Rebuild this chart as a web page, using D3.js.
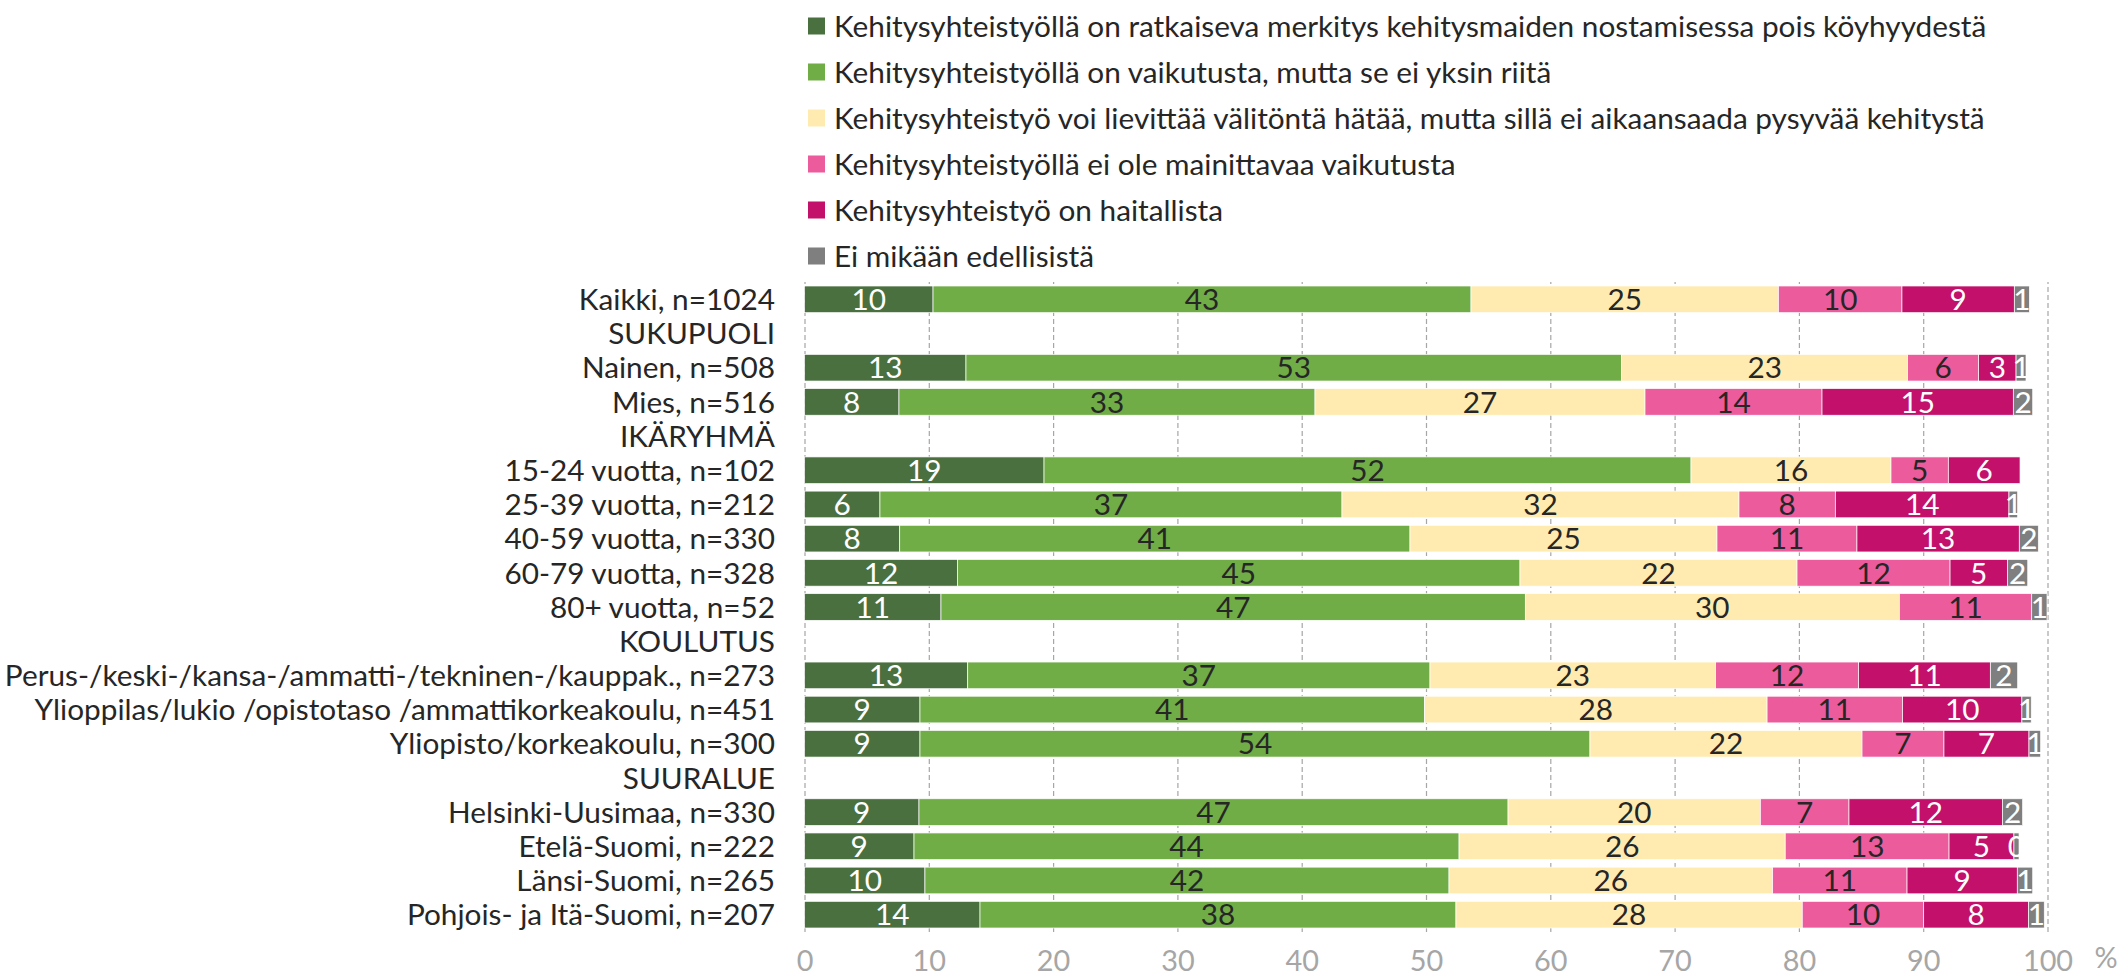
<!DOCTYPE html>
<html><head><meta charset="utf-8">
<script src="https://cdn.jsdelivr.net/npm/d3@7"></script>
<style>body{margin:0;background:#fff} svg{display:block}</style>
</head><body><svg id="c" width="2118" height="976"></svg>
<script>
const categories = [
  "Kaikki, n=1024", "SUKUPUOLI", "Nainen, n=508", "Mies, n=516", "IKÄRYHMÄ",
  "15-24 vuotta, n=102", "25-39 vuotta, n=212", "40-59 vuotta, n=330", "60-79 vuotta, n=328", "80+ vuotta, n=52",
  "KOULUTUS", "Perus-/keski-/kansa-/ammatti-/tekninen-/kauppak., n=273",
  "Ylioppilas/lukio /opistotaso /ammattikorkeakoulu, n=451", "Yliopisto/korkeakoulu, n=300",
  "SUURALUE", "Helsinki-Uusimaa, n=330", "Etelä-Suomi, n=222", "Länsi-Suomi, n=265", "Pohjois- ja Itä-Suomi, n=207"
];
const seriesNames = [
  "Kehitysyhteistyöllä on ratkaiseva merkitys kehitysmaiden nostamisessa pois köyhyydestä",
  "Kehitysyhteistyöllä on vaikutusta, mutta se ei yksin riitä",
  "Kehitysyhteistyö voi lievittää välitöntä hätää, mutta sillä ei aikaansaada pysyvää kehitystä",
  "Kehitysyhteistyöllä ei ole mainittavaa vaikutusta",
  "Kehitysyhteistyö on haitallista",
  "Ei mikään edellisistä"
];
const ratkaiseva = [10.34, null, 12.99, 7.60, null, 19.27, 6.07, 7.66, 12.30, 10.98, null, 13.13, 9.29, 9.29, null, 9.21, 8.81, 9.69, 14.12];
const vaikutusta = [43.28, null, 52.75, 33.47, null, 52.05, 37.17, 41.05, 45.26, 47.01, null, 37.19, 40.60, 53.90, null, 47.39, 43.85, 42.16, 38.29];
const lievittaa  = [24.73, null, 23.01, 26.55, null, 16.09, 31.94, 24.70, 22.29, 30.09, null, 22.98, 27.55, 21.89, null, 20.30, 26.24, 26.04, 27.86];
const eiVaikutusta = [9.94, null, 5.71, 14.24, null, 4.61, 7.75, 11.26, 12.31, 10.65, null, 11.50, 10.90, 6.59, null, 7.13, 13.18, 10.81, 9.77];
const haitallista = [9.04, null, 3.01, 15.39, null, 5.77, 13.97, 13.06, 4.61, null, null, 10.60, 9.60, 6.84, null, 12.34, 5.22, 8.87, 8.42];
const eiMikaan = [1.21, null, 0.80, 1.56, null, null, 0.70, 1.53, 1.64, 1.23, null, 2.20, 0.75, 0.94, null, 1.63, 0.41, 1.24, 1.28];
const seriesValues = [ratkaiseva, vaikutusta, lievittaa, eiVaikutusta, haitallista, eiMikaan];
const tickValues = [0, 10, 20, 30, 40, 50, 60, 70, 80, 90, 100];
const unitLabel = "%";

const colors = ["#4a7040", "#70ad47", "#ffebb0", "#ec5b9c", "#c2106b", "#7f7f7f"];
const labelColors = ["#ffffff", "#262626", "#262626", "#262626", "#ffffff", "#ffffff"];

const FONT = "Lato, 'Noto Sans', sans-serif";
const svg = d3.select("#c");

function measure(txt, size) {
  const t = svg.append("text").attr("font-family", FONT).attr("font-size", size).text(txt);
  const w = t.node().getComputedTextLength();
  t.remove();
  return w;
}
const fsCat = 100 * 742 / measure(categories[12], 100);
const fsLeg = 100 * 1150 / measure(seriesNames[0], 100);
const fs = (fsCat + fsLeg) / 2;

const x = d3.scaleLinear().domain([0, 100]).range([804.5, 2047.5]);
const y = d3.scaleBand().domain(categories).range([282, 932]).paddingInner(0.22).paddingOuter(0.117);

// grid + axis
const axis = d3.axisBottom(x).tickValues(tickValues).tickSizeInner(-650).tickSizeOuter(0).tickFormat(d3.format("d"));
const gAxis = svg.append("g").attr("transform", "translate(0,932)").call(axis);
gAxis.select(".domain").remove();
gAxis.selectAll(".tick line").attr("stroke", "#a6a6a6").attr("stroke-width", 1.2).attr("stroke-dasharray", "5,3");
gAxis.selectAll(".tick text").attr("font-family", FONT).attr("font-size", fs * 0.97).attr("fill", "#a6a6a6")
  .attr("y", 29).attr("dy", "0.35em");
svg.append("text").attr("x", 2106).attr("y", 958).attr("text-anchor", "middle").attr("dy", "0.35em")
  .attr("font-family", FONT).attr("font-size", fs * 0.97).attr("fill", "#a6a6a6").text(unitLabel);

// stacked bars
const stackData = categories.map((c, i) => {
  const o = { cat: c };
  seriesValues.forEach((arr, k) => o["s" + k] = arr[i] == null ? 0 : arr[i]);
  return o;
});
const keys = seriesValues.map((_, k) => "s" + k);
const stacked = d3.stack().keys(keys)(stackData);

stacked.forEach((layer, k) => {
  const segs = layer.map((d, i) => ({ cat: categories[i], v: seriesValues[k][i], x0: d[0], x1: d[1] }))
    .filter(d => d.v != null);
  const g = svg.append("g");
  g.selectAll("rect").data(segs).join("rect")
    .attr("x", d => x(d.x0)).attr("width", d => x(d.x1) - x(d.x0))
    .attr("y", d => y(d.cat)).attr("height", y.bandwidth())
    .attr("fill", colors[k]).attr("stroke", "#ffffff").attr("stroke-width", 0.7);
  g.selectAll("text").data(segs).join("text")
    .attr("x", d => (x(d.x0) + x(d.x1)) / 2).attr("y", d => y(d.cat) + y.bandwidth() / 2)
    .attr("dy", "0.36em").attr("text-anchor", "middle")
    .attr("font-family", FONT).attr("font-size", fs).attr("fill", labelColors[k])
    .text(d => Math.round(d.v));
});

// category labels
svg.append("g").selectAll("text").data(categories).join("text")
  .attr("x", 775).attr("y", d => y(d) + y.bandwidth() / 2).attr("dy", "0.36em")
  .attr("text-anchor", "end").attr("font-family", FONT).attr("font-size", fs).attr("fill", "#262626")
  .text(d => d);

// legend
const leg = svg.append("g").selectAll("g").data(seriesNames).join("g")
  .attr("transform", (d, i) => `translate(808,${26 + i * 46})`);
leg.append("rect").attr("x", 0).attr("y", -8.5).attr("width", 17).attr("height", 17).attr("fill", (d, i) => colors[i]);
leg.append("text").attr("x", 26).attr("y", 0).attr("dy", "0.36em")
  .attr("font-family", FONT).attr("font-size", fs).attr("fill", "#262626").text(d => d);
</script>
</body></html>
